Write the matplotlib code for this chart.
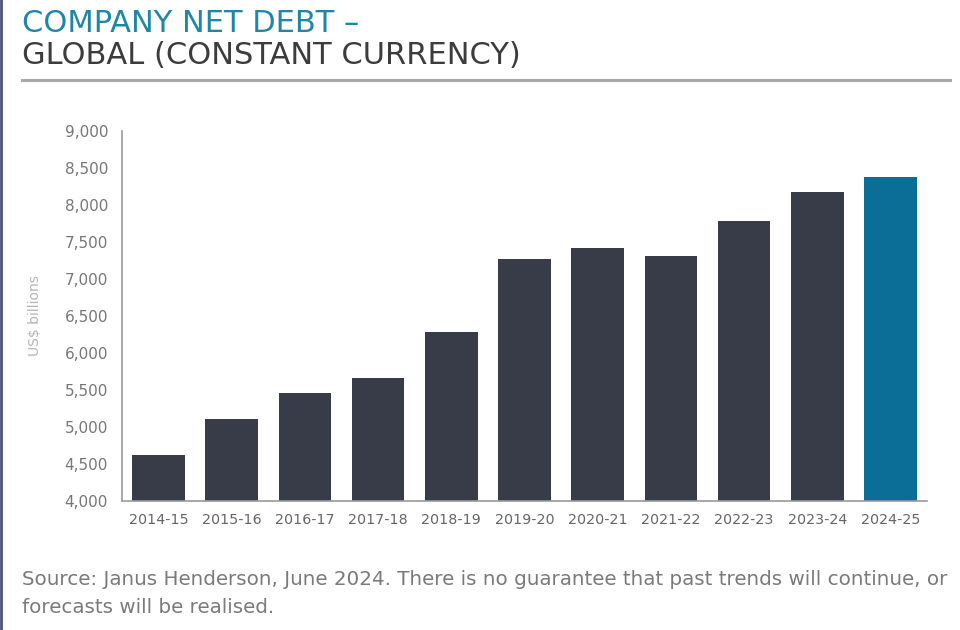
import matplotlib
matplotlib.use("Agg")
import matplotlib.pyplot as plt
from matplotlib.lines import Line2D

categories = ["2014-15", "2015-16", "2016-17", "2017-18", "2018-19", "2019-20",
              "2020-21", "2021-22", "2022-23", "2023-24", "2024-25"]
net_debt = [4625, 5105, 5465, 5660, 6290, 7270, 7415, 7315, 7790, 8170, 8380]
bar_colors = ["#383b48"] * 10 + ["#0b6e97"]
yticks = [4000, 4500, 5000, 5500, 6000, 6500, 7000, 7500, 8000, 8500, 9000]
ytick_labels = ["4,000", "4,500", "5,000", "5,500", "6,000", "6,500",
                "7,000", "7,500", "8,000", "8,500", "9,000"]
title_line1 = "COMPANY NET DEBT \u2013"
title_line2 = "GLOBAL (CONSTANT CURRENCY)"
y_label = "US$ billions"
footer = ("Source: Janus Henderson, June 2024. There is no guarantee that past trends will continue, or\n"
          "forecasts will be realised.")

plt.rcParams['font.family'] = ['DejaVu Sans']

fig = plt.figure(figsize=(9.6, 6.3), dpi=100)
fig.patch.set_facecolor("white")
ax = fig.add_axes([122/960, 1-501/630, (927-122)/960, (501-131)/630])

x = list(range(len(categories)))
ax.bar(x, [v - 4000 for v in net_debt], bottom=4000, width=0.72, color=bar_colors)
ax.set_xlim(-0.5, 10.5)
ax.set_ylim(4000, 9000)
ax.set_yticks(yticks)
ax.set_yticklabels(ytick_labels)
ax.set_xticks(x)
ax.set_xticklabels(categories)
ax.tick_params(axis='y', length=0, colors="#777777", labelsize=11, pad=10)
ax.tick_params(axis='x', length=0, colors="#666666", labelsize=10.3, pad=9)
for s in ["top", "right"]:
    ax.spines[s].set_visible(False)
ax.spines["left"].set_color("#9a9a9a")
ax.spines["bottom"].set_color("#9a9a9a")
ax.spines["left"].set_linewidth(1.2)
ax.spines["bottom"].set_linewidth(1.2)
ax.set_ylabel(y_label, color="#b5b5b5", fontsize=10, labelpad=16)

fig.text(22/960, 1-32/630, title_line1, color="#1f87a6", fontsize=22, va="baseline", ha="left")
fig.text(22/960, 1-64/630, title_line2, color="#3c3c3c", fontsize=22, va="baseline", ha="left")
fig.add_artist(Line2D([22/960, 950/960], [1-80/630, 1-80/630], color="#a8a8a8", linewidth=2.2))
fig.add_artist(Line2D([1/960, 1/960], [0, 1], color="#4b5275", linewidth=2))

fig.text(22/960, 1-613/630, footer, color="#7a7a7a", fontsize=14.3, va="baseline", ha="left",
         linespacing=1.62)

fig.savefig("out.png", dpi=100)
